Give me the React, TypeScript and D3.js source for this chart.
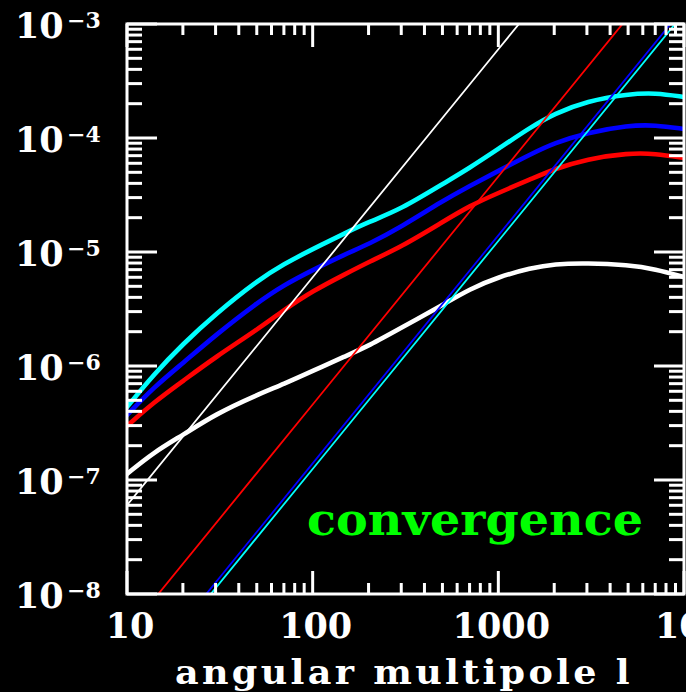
import React from "react";
import * as d3 from "d3";

// Multipole grid shared by the four thick spectra
const ELL = [10, 14, 20, 30, 50, 70, 100, 150, 200, 300, 500, 700, 1000, 1500, 2000, 3000, 5000, 7000, 10000];

const CYAN_CL = [4.37e-7, 8.51e-7, 1.56e-6, 2.86e-6, 5.57e-6, 7.85e-6, 1.06e-5, 1.47e-5, 1.83e-5, 2.38e-5, 3.94e-5, 5.46e-5, 8.02e-5, 1.25e-4, 1.63e-4, 2.11e-4, 2.43e-4, 2.49e-4, 2.29e-4];
const BLUE_CL = [3.71e-7, 6.55e-7, 1.06e-6, 1.87e-6, 3.57e-6, 5.14e-6, 6.95e-6, 9.6e-6, 1.17e-5, 1.66e-5, 2.8e-5, 3.79e-5, 5.14e-5, 7.24e-5, 9.03e-5, 1.11e-4, 1.29e-4, 1.3e-4, 1.2e-4];
const RED_CL = [2.98e-7, 4.83e-7, 7.38e-7, 1.2e-6, 2.07e-6, 3.1e-6, 4.55e-6, 6.41e-6, 8.17e-6, 1.11e-5, 1.83e-5, 2.54e-5, 3.3e-5, 4.36e-5, 5.35e-5, 6.55e-5, 7.38e-5, 7.31e-5, 6.68e-5];
const WHITE_CL = [1.13e-7, 1.76e-7, 2.48e-7, 3.79e-7, 5.57e-7, 6.95e-7, 9.04e-7, 1.22e-6, 1.5e-6, 2.16e-6, 3.43e-6, 4.73e-6, 6.04e-6, 7.24e-6, 7.85e-6, 8.01e-6, 7.69e-6, 7.1e-6, 6.04e-6];

// Thin straight (power-law) reference lines
const THIN_ELL = [10, 100, 1000, 10000];
const THIN_WHITE = [6.0e-8, 6.0e-6, 6.0e-4, 6.0e-2];
const THIN_RED = [4.6e-9, 4.6e-7, 4.6e-5, 4.6e-3];
const THIN_BLUE = [1.4e-9, 1.4e-7, 1.4e-5, 1.4e-3];
const THIN_CYAN = [1.25e-9, 1.25e-7, 1.25e-5, 1.25e-3];

const X_LABELS = ["10", "100", "1000", "10"];
const X_LABEL_SUP = ["", "", "", "4"];
const X_TITLE = "angular multipole l";
const NOTE = "convergence";

const W = 686;
const H = 692;
const L = 127, R = 684, T = 24, B = 594;
const FONT = "'DejaVu Serif', serif";

export default function App() {
  const x = d3.scaleLog().domain([10, 10000]).range([L, R]);
  const y = d3.scaleLog().domain([1e-8, 1e-3]).range([B, T]);

  const thick = [
    { vals: WHITE_CL, color: "#ffffff" },
    { vals: RED_CL, color: "#ff0000" },
    { vals: BLUE_CL, color: "#0000ff" },
    { vals: CYAN_CL, color: "#00ffff" },
  ];
  const thin = [
    { vals: THIN_WHITE, color: "#ffffff" },
    { vals: THIN_RED, color: "#ff0000" },
    { vals: THIN_BLUE, color: "#0000ff" },
    { vals: THIN_CYAN, color: "#00ffff" },
  ];

  const smooth = d3
    .line<[number, number]>()
    .x((d) => x(d[0]))
    .y((d) => y(d[1]))
    .curve(d3.curveBasis);
  const straight = d3
    .line<[number, number]>()
    .x((d) => x(d[0]))
    .y((d) => y(d[1]));

  const isMajor = (t: number) => Math.abs(Math.log10(t) - Math.round(Math.log10(t))) < 1e-6;
  const xTicks = x.ticks();
  const yTicks = y.ticks();
  const xMajors = xTicks.filter(isMajor);
  const yMajors = yTicks.filter(isMajor);

  const xMaj = 23, xMin = 11, yMaj = 30, yMin = 15;

  return (
    <svg
      width={W}
      height={H}
      style={{ position: "absolute", left: 0, top: 0, background: "#000" }}
    >
      <rect x={0} y={0} width={W} height={H} fill="#000" />
      <defs>
        <clipPath id="plotArea">
          <rect x={L} y={T} width={R - L} height={B - T} />
        </clipPath>
      </defs>

      <g clipPath="url(#plotArea)" fill="none" strokeLinejoin="round" strokeLinecap="round">
        {thick.map((s, i) => (
          <path
            key={"thick" + i}
            d={smooth(ELL.map((l, j) => [l, s.vals[j]] as [number, number])) || ""}
            stroke={s.color}
            strokeWidth={4.6}
          />
        ))}
        {thin.map((s, i) => (
          <path
            key={"thin" + i}
            d={straight(THIN_ELL.map((l, j) => [l, s.vals[j]] as [number, number])) || ""}
            stroke={s.color}
            strokeWidth={1.8}
          />
        ))}
      </g>

      {/* ticks on all four sides */}
      <g stroke="#fff" strokeWidth={3}>
        {xTicks.map((t, i) => {
          const len = isMajor(t) ? xMaj : xMin;
          const px = x(t);
          return (
            <g key={"xt" + i}>
              <line x1={px} x2={px} y1={B} y2={B - len} />
              <line x1={px} x2={px} y1={T} y2={T + len} />
            </g>
          );
        })}
        {yTicks.map((t, i) => {
          const len = isMajor(t) ? yMaj : yMin;
          const py = y(t);
          return (
            <g key={"yt" + i}>
              <line x1={L} x2={L + len} y1={py} y2={py} />
              <line x1={R} x2={R - len} y1={py} y2={py} />
            </g>
          );
        })}
      </g>
      <rect x={L} y={T} width={R - L} height={B - T} fill="none" stroke="#fff" strokeWidth={3} />

      {/* y tick labels: 10^n */}
      <g fill="#fff" fontFamily={FONT} fontWeight="bold">
        {yMajors.map((t, i) => {
          const py = y(t);
          const e = Math.round(Math.log10(t));
          return (
            <g key={"yl" + i}>
              <text x={15} y={py + 14} fontSize={35}>10</text>
              <text x={67} y={py + 4} fontSize={22}>{(e < 0 ? "\u2212" : "") + Math.abs(e)}</text>
            </g>
          );
        })}
      </g>

      {/* x tick labels */}
      <g fill="#fff" fontFamily={FONT} fontWeight="bold">
        {xMajors.map((t, i) => (
          <text key={"xl" + i} x={x(t) + 3} y={638} fontSize={35} textAnchor="middle">
            {X_LABELS[i]}
            {X_LABEL_SUP[i] ? (
              <tspan fontSize={22} dy={-11}>{X_LABEL_SUP[i]}</tspan>
            ) : null}
          </text>
        ))}
      </g>

      <text
        x={175}
        y={684}
        fill="#fff"
        fontFamily={FONT}
        fontWeight="bold"
        fontSize={33}
        letterSpacing={3}
        textLength={458}
        lengthAdjust="spacingAndGlyphs"
      >
        {X_TITLE}
      </text>

      <text
        x={307}
        y={535}
        fill="#00ff00"
        fontFamily={FONT}
        fontWeight="bold"
        fontSize={44}
        textLength={336}
        lengthAdjust="spacingAndGlyphs"
      >
        {NOTE}
      </text>
    </svg>
  );
}
